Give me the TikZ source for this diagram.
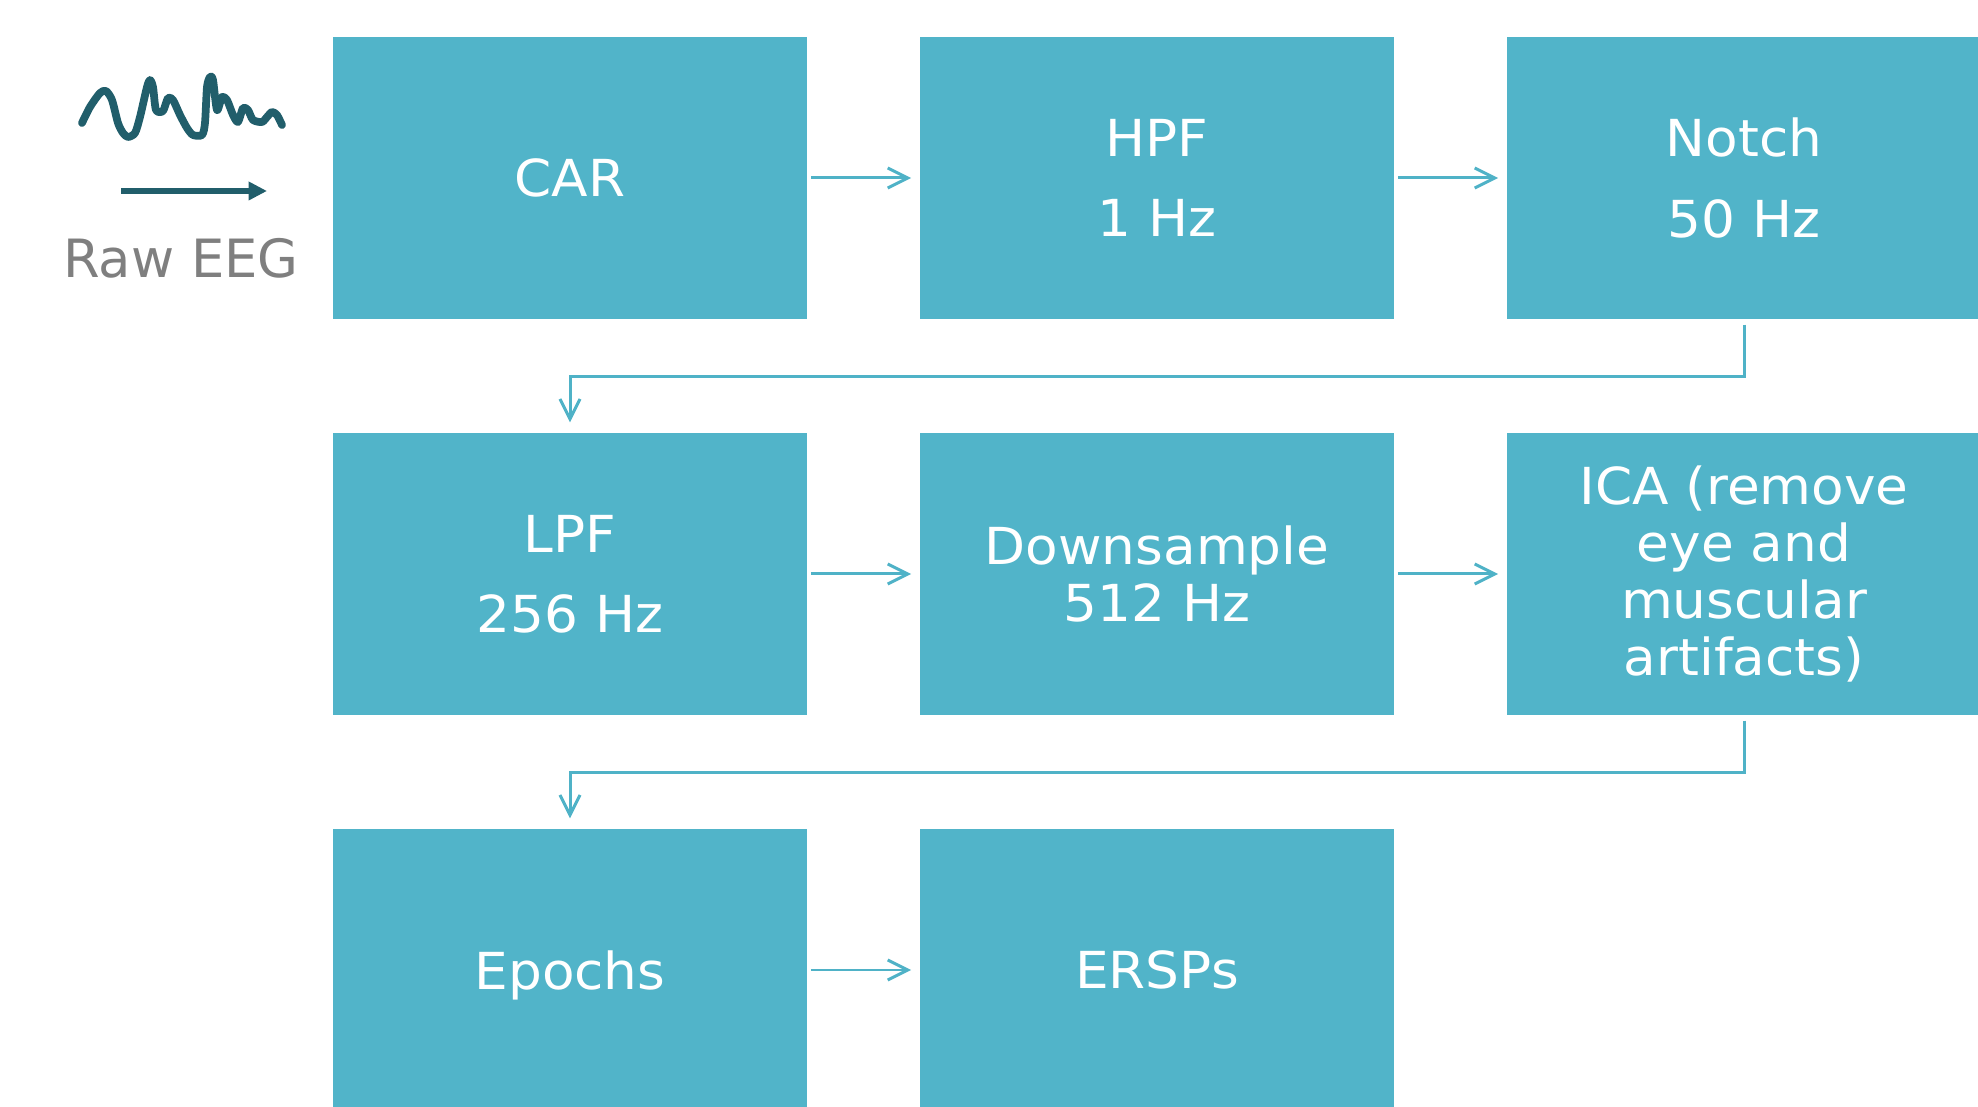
\documentclass[tikz,border=0pt]{standalone}
\usepackage{fontspec}
\setmainfont{DejaVu Sans}
\newfontfamily\stagefont{DejaVu Sans}[FakeStretch=1.045]
\usetikzlibrary{arrows.meta}
\definecolor{boxblue}{HTML}{51B4C9}
\definecolor{linkblue}{HTML}{4FB2C7}
\definecolor{wavedark}{HTML}{215E6B}
\definecolor{labelgrey}{HTML}{7F7F7F}
\begin{document}
\begin{tikzpicture}[x=0.01cm, y=-0.01cm,
    stage/.style={rectangle, fill=boxblue, text=white, minimum width=4.74cm, minimum height=2.82cm, inner sep=0pt, align=center, font=\stagefont\fontsize{14.5}{16.2}\selectfont},
    link/.style={draw=linkblue, line width=0.85pt, -{Straight Barb[length=5.7pt,width=5.7pt]}},
    wave/.style={draw=wavedark, line width=2.2pt, line cap=round, line join=round}]
                \useasboundingbox (0,0) rectangle (1978,1107);
                \clip (0,0) rectangle (1978,1107);
                % raw signal
                \draw[wave] plot[smooth, tension=0.45] coordinates {(82,123) (90,107) (100,93) (106,91) (112,100) (118,123) (123,133) (128,137) (135,133) (140,117) (147,87) (150,80) (153,87) (156,110) (163,111) (168,98) (173,100) (180,115) (187,128) (193,135) (202,135) (205,123) (207,87) (210,77) (213,80) (217,110) (222,97) (227,100) (233,115) (238,122) (243,108) (248,110) (253,120) (262,122) (267,117) (272,112) (277,115) (282,125)};
                \coordinate (tstart) at (121,191);
                \coordinate (tend) at (267,191);
                \draw[draw=wavedark, line width=1.7pt, -{Triangle[length=5.2pt,width=5pt]}] (tstart) -- (tend);
                \node[font=\fontsize{15}{18}\selectfont, text=labelgrey, anchor=base] (raweeg) at (181,278) {Raw EEG};
                % pipeline
                \node[stage] (car) at (570,178) {CAR};
                \node[stage] (hpf) at (1157,178) {HPF\\[6.6pt]1 Hz};
                \node[stage] (notch) at (1744,178) {Notch\\[6.6pt]50 Hz};
                \node[stage] (lpf) at (570,574) {LPF\\[6.6pt]256 Hz};
                \node[stage] (down) at (1157,574) {Downsample\\512 Hz};
                \node[stage] (ica) at (1744,574) {ICA (remove\\eye and\\muscular\\artifacts)};
                \node[stage, text depth=0pt] (epochs) at (570,970) {Epochs};
                \node[stage, text depth=0pt] (ersps) at (1157,970) {ERSPs};
                \draw[link] ([xshift=0.85pt]car.east) -- ([xshift=-2.3pt]hpf.west);
                \draw[link] ([xshift=0.85pt]hpf.east) -- ([xshift=-2.3pt]notch.west);
                \draw[link] ([yshift=-1.4pt]notch.south) -- ++(0,52) -| ([yshift=2.8pt]lpf.north);
                \draw[link] ([xshift=0.85pt]lpf.east) -- ([xshift=-2.3pt]down.west);
                \draw[link] ([xshift=0.85pt]down.east) -- ([xshift=-2.3pt]ica.west);
                \draw[link] ([yshift=-1.4pt]ica.south) -- ++(0,52) -| ([yshift=2.8pt]epochs.north);
                \draw[link] ([xshift=0.85pt]epochs.east) -- ([xshift=-2.3pt]ersps.west);
\end{tikzpicture}
\end{document}
